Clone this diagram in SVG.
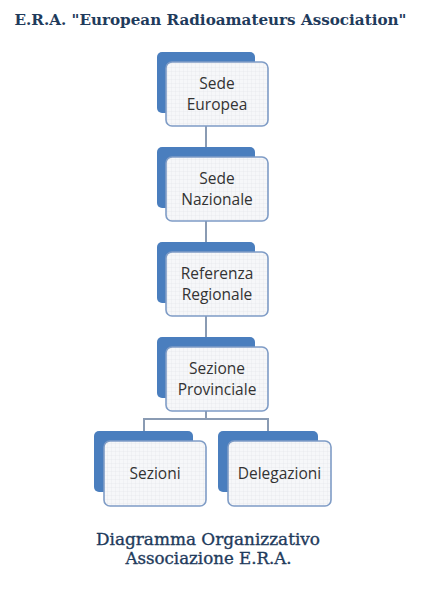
<svg xmlns="http://www.w3.org/2000/svg" width="423" height="600" viewBox="0 0 423 600">
<defs>
<pattern id="grid" width="4" height="4" patternUnits="userSpaceOnUse">
<rect width="4" height="4" fill="#f6f7f9"/>
<path d="M4 0V4M0 4H4" stroke="#e2e5ea" stroke-width="0.6" fill="none"/>
</pattern>
<style>
.back{fill:#4a7ebe;}
.front{fill:url(#grid);stroke:#7f9cc6;stroke-width:1.6;}
.lbl{font-family:"Open Sans","Noto Sans","Liberation Sans",sans-serif;font-size:15.5px;fill:#333333;text-anchor:middle;}
.conn{stroke:#8a9bb3;stroke-width:2;fill:none;}
.cap{font-family:"DejaVu Serif","Liberation Serif",serif;fill:#1f3b5c;text-anchor:middle;}
</style>
</defs>
<rect width="423" height="600" fill="#ffffff"/>
<text class="cap" x="210.5" y="25" font-size="15.5" font-weight="bold" textLength="392" lengthAdjust="spacingAndGlyphs">E.R.A. "European Radioamateurs Association"</text>
<g id="connectors">
<path class="conn" d="M206 126V147M206 221V242M206 316V337M206 411V419M144 432V419H268V432"/>
</g>
<g id="sede-europea">
<rect class="back" x="157" y="52" width="98" height="61" rx="5"/>
<rect class="front" x="166" y="62" width="102" height="64" rx="6"/>
<text class="lbl" x="217" y="89">Sede</text>
<text class="lbl" x="217" y="110">Europea</text>
</g>
<g id="sede-nazionale">
<rect class="back" x="157" y="147" width="98" height="61" rx="5"/>
<rect class="front" x="166" y="157" width="102" height="64" rx="6"/>
<text class="lbl" x="217" y="184">Sede</text>
<text class="lbl" x="217" y="205">Nazionale</text>
</g>
<g id="referenza-regionale">
<rect class="back" x="157" y="242" width="98" height="61" rx="5"/>
<rect class="front" x="166" y="252" width="102" height="64" rx="6"/>
<text class="lbl" x="217" y="279">Referenza</text>
<text class="lbl" x="217" y="300">Regionale</text>
</g>
<g id="sezione-provinciale">
<rect class="back" x="157" y="337" width="98" height="61" rx="5"/>
<rect class="front" x="166" y="347" width="102" height="64" rx="6"/>
<text class="lbl" x="217" y="374">Sezione</text>
<text class="lbl" x="217" y="395">Provinciale</text>
</g>
<g id="sezioni">
<rect class="back" x="94" y="431" width="99" height="61" rx="5"/>
<rect class="front" x="104" y="441" width="102" height="65" rx="6"/>
<text class="lbl" x="155" y="479">Sezioni</text>
</g>
<g id="delegazioni">
<rect class="back" x="218" y="431" width="100" height="61" rx="5"/>
<rect class="front" x="228" y="441" width="103" height="65" rx="6"/>
<text class="lbl" x="279.5" y="479">Delegazioni</text>
</g>
<text class="cap" x="208" y="545" font-size="16" stroke="#1f3b5c" stroke-width="0.35" textLength="224" lengthAdjust="spacingAndGlyphs">Diagramma Organizzativo</text>
<text class="cap" x="208.5" y="564" font-size="16" stroke="#1f3b5c" stroke-width="0.35" textLength="166" lengthAdjust="spacingAndGlyphs">Associazione E.R.A.</text>
</svg>
